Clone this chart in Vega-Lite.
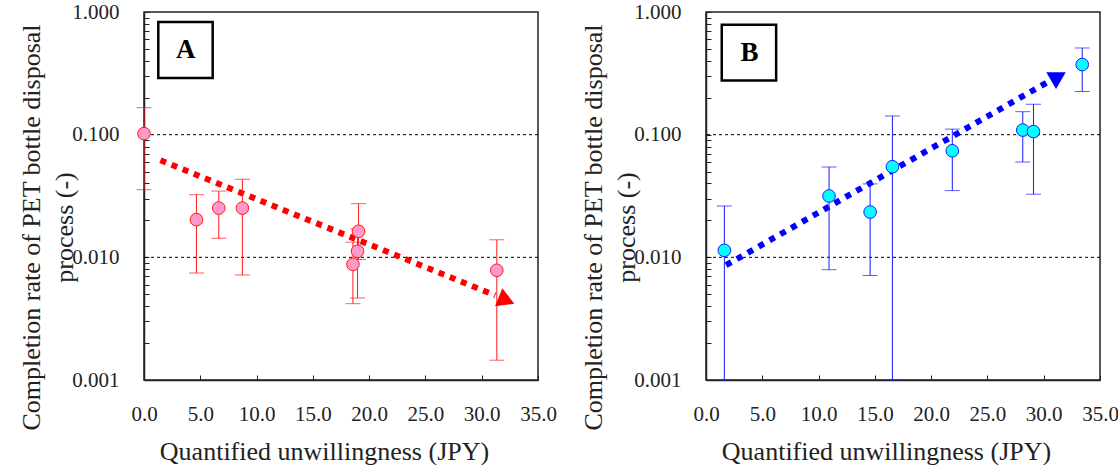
{
  "$schema": "https://vega.github.io/schema/vega-lite/v6.json",
  "padding": {"left": 17, "top": 0, "right": 0, "bottom": 0},
  "background": "white",
  "datasets": {
    "a": [
      {"x": 0, "y": 0.102, "lo": 0.0356, "hi": 0.166},
      {"x": 4.66, "y": 0.0203, "lo": 0.00745, "hi": 0.0324},
      {"x": 6.64, "y": 0.0252, "lo": 0.0143, "hi": 0.0347},
      {"x": 8.74, "y": 0.0252, "lo": 0.00718, "hi": 0.0433},
      {"x": 18.56, "y": 0.00877, "lo": 0.00419, "hi": 0.0133},
      {"x": 18.97, "y": 0.0112, "lo": 0.00466, "hi": 0.017},
      {"x": 19.06, "y": 0.0163, "lo": 0.0096, "hi": 0.0274},
      {"x": 31.34, "y": 0.00784, "lo": 0.00145, "hi": 0.0139}
    ],
    "b": [
      {"x": 1.63, "y": 0.0114, "lo": 0.001, "hi": 0.0262},
      {"x": 10.93, "y": 0.0316, "lo": 0.00793, "hi": 0.0545},
      {"x": 14.58, "y": 0.0234, "lo": 0.00711, "hi": 0.0397},
      {"x": 16.56, "y": 0.0548, "lo": 0.001, "hi": 0.142},
      {"x": 21.88, "y": 0.0739, "lo": 0.035, "hi": 0.111},
      {"x": 28.14, "y": 0.109, "lo": 0.0598, "hi": 0.154},
      {"x": 29.09, "y": 0.106, "lo": 0.0327, "hi": 0.177},
      {"x": 33.42, "y": 0.373, "lo": 0.225, "hi": 0.509}
    ],
    "grid": [{"g": 0.1}, {"g": 0.01}],
    "arrowA": [{"x": 1.46, "y": 0.0618}, {"x": 31.2, "y": 0.0049}],
    "headA": [{"x": 32.2, "y": 0.00445}],
    "arrowB": [{"x": 1.78, "y": 0.00863}, {"x": 30.4, "y": 0.27}],
    "headB": [{"x": 31.31, "y": 0.2985}],
    "boxA": [{"x1": 1.27, "x2": 6.1, "y1": 0.29, "y2": 0.829, "xm": 3.71, "ym": 0.487, "label": "A"}],
    "boxB": [{"x1": 1.4, "x2": 6.23, "y1": 0.277, "y2": 0.787, "xm": 3.86, "ym": 0.465, "label": "B"}]
  },
  "spacing": 168,
  "bounds": "flush",
  "hconcat": [
    {
      "width": 394,
      "height": 368,
      "layer": [
        {
          "data": {"name": "grid"},
          "mark": {"type": "rule", "color": "black", "strokeWidth": 1, "strokeDash": [3, 3]},
          "encoding": {"y": {"field": "g", "type": "quantitative", "title": ["Completion rate of PET bottle disposal", "process (-)"], "scale": {"type": "log", "domain": [0.001, 1]}}}
        },
        {
          "data": {"name": "arrowA"},
          "mark": {"type": "line", "color": "#FF0000", "strokeWidth": 6, "strokeDash": [6, 6], "strokeCap": "butt"},
          "encoding": {
            "x": {"field": "x", "type": "quantitative", "title": "Quantified unwillingness (JPY)", "scale": {"domain": [0, 35], "nice": false},
              "axis": {"values": [0, 5, 10, 15, 20, 25, 30, 35], "format": ".1f", "labelFlush": false, "labelPadding": 28, "labelFont": "Liberation Serif", "labelFontSize": 21, "titleFont": "Liberation Serif", "titleFontSize": 26, "titleFontWeight": "normal", "titleBaseline": "alphabetic", "titleY": 79, "titleX": 180}},
            "y": {"field": "y", "type": "quantitative", "title": ["Completion rate of PET bottle disposal", "process (-)"], "scale": {"type": "log", "domain": [0.001, 1]},
              "axis": {"values": [0.001,0.002,0.003,0.004,0.005,0.006,0.007,0.008,0.009,0.01,0.02,0.03,0.04,0.05,0.06,0.07,0.08,0.09,0.1,0.2,0.3,0.4,0.5,0.6,0.7,0.8,0.9,1],
                "labelExpr": "datum.value == 0.001 || datum.value == 0.01 || datum.value == 0.1 || datum.value == 1 ? format(datum.value, '.3f') : ''",
                "labelPadding": 30, "labelBaseline": "middle", "labelFlush": false, "labelFont": "Liberation Serif", "labelFontSize": 21, "titleFont": "Liberation Serif", "titleFontSize": 26, "titleFontWeight": "normal",
                "titleAngle": -90, "titleX": -113, "titleY": 215, "titleAlign": "center", "titleBaseline": "middle", "titleLineHeight": 33}}
          }
        },
        {
          "data": {"name": "a"},
          "mark": {"type": "errorbar", "ticks": true, "size": 15, "thickness": 1, "color": "#FF1A1A"},
          "encoding": {
            "x": {"field": "x", "type": "quantitative", "title": "Quantified unwillingness (JPY)"},
            "y": {"field": "lo", "type": "quantitative", "title": ["Completion rate of PET bottle disposal", "process (-)"], "scale": {"type": "log"}},
            "y2": {"field": "hi"}
          }
        },
        {
          "data": {"name": "a"},
          "mark": {"type": "point", "shape": "circle", "filled": true, "size": 160, "fill": "#FF99CC", "stroke": "#FF1A1A", "strokeWidth": 1, "opacity": 1},
          "encoding": {
            "x": {"field": "x", "type": "quantitative", "title": "Quantified unwillingness (JPY)"},
            "y": {"field": "y", "type": "quantitative", "title": ["Completion rate of PET bottle disposal", "process (-)"], "scale": {"type": "log"}}
          }
        },
        {
          "data": {"name": "headA"},
          "mark": {"type": "point", "shape": "triangle-right", "filled": true, "size": 380, "color": "#FF0000", "opacity": 1, "angle": 22},
          "encoding": {
            "x": {"field": "x", "type": "quantitative", "title": "Quantified unwillingness (JPY)"},
            "y": {"field": "y", "type": "quantitative", "title": ["Completion rate of PET bottle disposal", "process (-)"], "scale": {"type": "log"}}
          }
        },
        {
          "data": {"name": "boxA"},
          "mark": {"type": "rect", "fill": "white", "stroke": "black", "strokeWidth": 2.5},
          "encoding": {
            "x": {"field": "x1", "type": "quantitative", "title": "Quantified unwillingness (JPY)"},
            "x2": {"field": "x2"},
            "y": {"field": "y1", "type": "quantitative", "title": ["Completion rate of PET bottle disposal", "process (-)"], "scale": {"type": "log"}},
            "y2": {"field": "y2"}
          }
        },
        {
          "data": {"name": "boxA"},
          "mark": {"type": "text", "font": "Liberation Serif", "fontSize": 27, "fontWeight": "bold", "color": "black", "baseline": "middle", "align": "center"},
          "encoding": {
            "x": {"field": "xm", "type": "quantitative", "title": "Quantified unwillingness (JPY)"},
            "y": {"field": "ym", "type": "quantitative", "title": ["Completion rate of PET bottle disposal", "process (-)"], "scale": {"type": "log"}},
            "text": {"field": "label"}
          }
        }
      ]
    },
    {
      "width": 394,
      "height": 368,
      "layer": [
        {
          "data": {"name": "grid"},
          "mark": {"type": "rule", "color": "black", "strokeWidth": 1, "strokeDash": [3, 3]},
          "encoding": {"y": {"field": "g", "type": "quantitative", "title": ["Completion rate of PET bottle disposal", "process (-)"], "scale": {"type": "log", "domain": [0.001, 1]}}}
        },
        {
          "data": {"name": "arrowB"},
          "mark": {"type": "line", "color": "#0000FF", "strokeWidth": 6, "strokeDash": [6, 6.5], "strokeCap": "butt"},
          "encoding": {
            "x": {"field": "x", "type": "quantitative", "title": "Quantified unwillingness (JPY)", "scale": {"domain": [0, 35], "nice": false},
              "axis": {"values": [0, 5, 10, 15, 20, 25, 30, 35], "format": ".1f", "labelFlush": false, "labelPadding": 28, "labelFont": "Liberation Serif", "labelFontSize": 21, "titleFont": "Liberation Serif", "titleFontSize": 26, "titleFontWeight": "normal", "titleBaseline": "alphabetic", "titleY": 79, "titleX": 180}},
            "y": {"field": "y", "type": "quantitative", "title": ["Completion rate of PET bottle disposal", "process (-)"], "scale": {"type": "log", "domain": [0.001, 1]},
              "axis": {"values": [0.001,0.002,0.003,0.004,0.005,0.006,0.007,0.008,0.009,0.01,0.02,0.03,0.04,0.05,0.06,0.07,0.08,0.09,0.1,0.2,0.3,0.4,0.5,0.6,0.7,0.8,0.9,1],
                "labelExpr": "datum.value == 0.001 || datum.value == 0.01 || datum.value == 0.1 || datum.value == 1 ? format(datum.value, '.3f') : ''",
                "labelPadding": 30, "labelBaseline": "middle", "labelFlush": false, "labelFont": "Liberation Serif", "labelFontSize": 21, "titleFont": "Liberation Serif", "titleFontSize": 26, "titleFontWeight": "normal",
                "titleAngle": -90, "titleX": -113, "titleY": 215, "titleAlign": "center", "titleBaseline": "middle", "titleLineHeight": 33}}
          }
        },
        {
          "data": {"name": "b"},
          "mark": {"type": "errorbar", "ticks": true, "size": 15, "thickness": 1, "color": "#1A1AFF"},
          "encoding": {
            "x": {"field": "x", "type": "quantitative", "title": "Quantified unwillingness (JPY)"},
            "y": {"field": "lo", "type": "quantitative", "title": ["Completion rate of PET bottle disposal", "process (-)"], "scale": {"type": "log"}},
            "y2": {"field": "hi"}
          }
        },
        {
          "data": {"name": "b"},
          "mark": {"type": "point", "shape": "circle", "filled": true, "size": 160, "fill": "#00FFFF", "stroke": "#1A1AFF", "strokeWidth": 1, "opacity": 1},
          "encoding": {
            "x": {"field": "x", "type": "quantitative", "title": "Quantified unwillingness (JPY)"},
            "y": {"field": "y", "type": "quantitative", "title": ["Completion rate of PET bottle disposal", "process (-)"], "scale": {"type": "log"}}
          }
        },
        {
          "data": {"name": "headB"},
          "mark": {"type": "point", "shape": "triangle-right", "filled": true, "size": 380, "color": "#0000FF", "opacity": 1, "angle": 330},
          "encoding": {
            "x": {"field": "x", "type": "quantitative", "title": "Quantified unwillingness (JPY)"},
            "y": {"field": "y", "type": "quantitative", "title": ["Completion rate of PET bottle disposal", "process (-)"], "scale": {"type": "log"}}
          }
        },
        {
          "data": {"name": "boxB"},
          "mark": {"type": "rect", "fill": "white", "stroke": "black", "strokeWidth": 2.5},
          "encoding": {
            "x": {"field": "x1", "type": "quantitative", "title": "Quantified unwillingness (JPY)"},
            "x2": {"field": "x2"},
            "y": {"field": "y1", "type": "quantitative", "title": ["Completion rate of PET bottle disposal", "process (-)"], "scale": {"type": "log"}},
            "y2": {"field": "y2"}
          }
        },
        {
          "data": {"name": "boxB"},
          "mark": {"type": "text", "font": "Liberation Serif", "fontSize": 27, "fontWeight": "bold", "color": "black", "baseline": "middle", "align": "center"},
          "encoding": {
            "x": {"field": "xm", "type": "quantitative", "title": "Quantified unwillingness (JPY)"},
            "y": {"field": "ym", "type": "quantitative", "title": ["Completion rate of PET bottle disposal", "process (-)"], "scale": {"type": "log"}},
            "text": {"field": "label"}
          }
        }
      ]
    }
  ],
  "config": {
    "font": "Liberation Serif",
    "view": {"stroke": "#222222", "strokeWidth": 1.5},
    "axis": {
      "grid": false,
      "domainColor": "#222222",
      "domainWidth": 1.5,
      "tickColor": "#222222",
      "tickWidth": 1,
      "tickSize": -5,
      "labelFont": "Liberation Serif",
      "labelFontSize": 21,
      "labelColor": "#222222",
      "titleFont": "Liberation Serif",
      "titleFontSize": 26,
      "titleFontWeight": "normal",
      "titleColor": "#222222"
    }
  }
}
